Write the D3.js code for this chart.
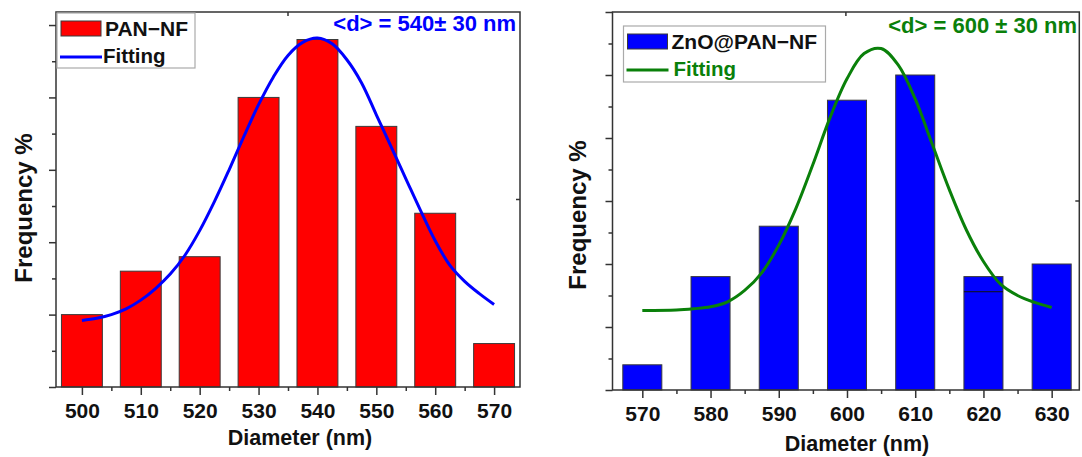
<!DOCTYPE html>
<html>
<head>
<meta charset="utf-8">
<script src="https://cdn.jsdelivr.net/npm/d3@7"></script>
<style>
  html, body { margin: 0; padding: 0; background: #fff; }
  svg { display: block; font-family: "Liberation Sans", Arial, sans-serif; }
</style>
</head>
<body>
<svg id="chart" width="1082" height="457"></svg>
<script>
// ---------- DATA ----------
const leftDiameters = [500, 510, 520, 530, 540, 550, 560, 570];
const leftFrequency = [5, 8, 9, 20, 24, 18, 12, 3];
const leftFitX = [500, 502.5, 505, 507.5, 510, 512.5, 515, 517.5, 520, 522.5, 525, 527.5, 530, 532.5, 535, 537.5, 540, 542.5, 545, 547.5, 550, 552.5, 555, 557.5, 560, 562.5, 565, 567.5, 570];
const leftFitY = [4.6, 4.75, 5.0, 5.4, 6.0, 6.8, 7.8, 9.1, 10.8, 12.8, 15.0, 17.3, 19.5, 21.4, 22.9, 23.8, 24.1, 23.7, 22.6, 21.0, 18.8, 16.6, 14.4, 12.2, 10.1, 8.4, 7.3, 6.45, 5.7];
const leftXTickLabels = ["500", "510", "520", "530", "540", "550", "560", "570"];
const leftLegend = ["PAN\u2212NF", "Fitting"];
const leftNote = "<d> = 540\u00b1 30 nm";

const rightDiameters = [570, 580, 590, 600, 610, 620, 630];
const rightFrequency = [2, 9, 13, 23, 25, 9, 10];
const rightInnerLine = [{ d: 620, v: 7.8 }];
const rightFitX = [570, 575, 577.5, 580, 582.5, 585, 587.5, 590, 592.5, 595, 597.5, 600, 602.5, 605, 607.5, 610, 612.5, 615, 617.5, 620, 622.5, 625, 627.5, 630];
const rightFitY = [6.3, 6.35, 6.45, 6.6, 7.0, 7.9, 9.3, 11.5, 14.4, 17.9, 21.6, 24.7, 26.7, 27.1, 25.8, 23.1, 19.5, 15.9, 12.7, 10.2, 8.4, 7.5, 6.95, 6.55];
const rightXTickLabels = ["570", "580", "590", "600", "610", "620", "630"];
const rightLegend = ["ZnO@PAN\u2212NF", "Fitting"];
const rightNote = "<d> = 600 \u00b1 30 nm";

const xTitle = "Diameter (nm)";
const yTitle = "Frequency %";

// ---------- DRAWING ----------
const svg = d3.select("#chart");
const axisColor = "#333";

function panel(cfg) {
  const g = svg.append("g");
  const x = d3.scaleLinear().domain(cfg.xDomain).range([cfg.left, cfg.right]);
  const y = d3.scaleLinear().domain(cfg.yDomain).range([cfg.bottom, cfg.top]);

  // bars
  g.selectAll("rect.bar").data(cfg.diam.map((d, i) => ({ d, v: cfg.freq[i] })))
    .enter().append("rect")
    .attr("x", d => x(d.d - cfg.barW / 2))
    .attr("width", d => x(d.d + cfg.barW / 2) - x(d.d - cfg.barW / 2))
    .attr("y", d => y(d.v))
    .attr("height", d => y(0) - y(d.v))
    .attr("fill", cfg.barColor)
    .attr("stroke", "#3a3a3a")
    .attr("stroke-width", 1);

  (cfg.inner || []).forEach(m => {
    g.append("line")
      .attr("x1", x(m.d - cfg.barW / 2)).attr("x2", x(m.d + cfg.barW / 2))
      .attr("y1", y(m.v)).attr("y2", y(m.v))
      .attr("stroke", "#111").attr("stroke-width", 1);
  });

  // fit curve
  const line = d3.line().x(d => x(d[0])).y(d => y(d[1])).curve(d3.curveCatmullRom);
  g.append("path")
    .datum(cfg.fitX.map((v, i) => [v, cfg.fitY[i]]))
    .attr("d", line)
    .attr("fill", "none")
    .attr("stroke", cfg.fitColor)
    .attr("stroke-width", 3);

  // frame
  g.append("rect")
    .attr("x", cfg.left).attr("y", cfg.top)
    .attr("width", cfg.right - cfg.left).attr("height", cfg.bottom - cfg.top)
    .attr("fill", "none").attr("stroke", axisColor).attr("stroke-width", 1.5);

  // bottom axis: majors + minors
  const xMaj = d3.axisBottom(x).tickValues(cfg.diam).tickSize(8).tickPadding(8)
    .tickFormat((d, i) => cfg.xLabels[i]);
  const gx = g.append("g").attr("transform", `translate(0,${cfg.bottom})`).call(xMaj);
  gx.select(".domain").remove();
  gx.selectAll(".tick line").attr("stroke", axisColor).attr("stroke-width", 1.5);
  gx.selectAll(".tick text")
    .attr("fill", "#111").attr("font-size", 21).attr("font-weight", "bold")
    .attr("font-family", "Liberation Sans, Arial, sans-serif")
    .attr("dy", null).attr("y", cfg.tickLabelDy);
  const minorX = cfg.diam.slice(0, -1).map(d => d + 5);
  const gxm = g.append("g").attr("transform", `translate(0,${cfg.bottom})`)
    .call(d3.axisBottom(x).tickValues(minorX).tickSize(4).tickFormat(""));
  gxm.select(".domain").remove();
  gxm.selectAll(".tick line").attr("stroke", axisColor).attr("stroke-width", 1.5);

  // left axis: majors + minors (no labels)
  const gy = g.append("g").attr("transform", `translate(${cfg.left},0)`)
    .call(d3.axisLeft(y).tickValues(cfg.yMajor).tickSize(7).tickFormat(""));
  gy.select(".domain").remove();
  gy.selectAll(".tick line").attr("stroke", axisColor).attr("stroke-width", 1.5);
  const gym = g.append("g").attr("transform", `translate(${cfg.left},0)`)
    .call(d3.axisLeft(y).tickValues(cfg.yMinor).tickSize(4).tickFormat(""));
  gym.select(".domain").remove();
  gym.selectAll(".tick line").attr("stroke", axisColor).attr("stroke-width", 1.5);

  // small stray ticks of top / right axes at mid points
  const mx = (cfg.left + cfg.right) / 2, my = (cfg.top + cfg.bottom) / 2;
  g.append("line").attr("x1", mx).attr("x2", mx).attr("y1", cfg.top).attr("y2", cfg.top + 4)
    .attr("stroke", axisColor).attr("stroke-width", 1.5);
  g.append("line").attr("x1", cfg.right).attr("x2", cfg.right - 4).attr("y1", my).attr("y2", my)
    .attr("stroke", axisColor).attr("stroke-width", 1.5);

  // axis titles
  g.append("text").attr("x", cfg.xTitleX).attr("y", cfg.xTitleY)
    .attr("text-anchor", "middle").attr("font-size", 21.5).attr("font-weight", "bold")
    .attr("fill", "#111").text(xTitle);
  g.append("text")
    .attr("transform", `translate(${cfg.yTitleX},${cfg.yTitleY}) rotate(-90)`)
    .attr("text-anchor", "middle").attr("font-size", 24).attr("font-weight", "bold")
    .attr("fill", "#111").text(yTitle);

  // legend
  const L = cfg.legend;
  g.append("rect").attr("x", L.x).attr("y", L.y).attr("width", L.w).attr("height", L.h)
    .attr("fill", "#fff").attr("stroke", "#aaa").attr("stroke-width", 1.2);
  g.append("rect").attr("x", L.x + 4).attr("y", L.y + 8).attr("width", 40).attr("height", 15)
    .attr("fill", cfg.barColor).attr("stroke", "#3a3a3a").attr("stroke-width", 1);
  g.append("text").attr("x", L.x + 48).attr("y", L.y + 23)
    .attr("font-size", 21).attr("font-weight", "bold").attr("fill", "#111").text(cfg.legendText[0]);
  g.append("line").attr("x1", L.x + 3).attr("x2", L.x + 45)
    .attr("y1", L.y + 44).attr("y2", L.y + 44)
    .attr("stroke", cfg.fitColor).attr("stroke-width", 3);
  g.append("text").attr("x", L.x + 45 + L.fitGap).attr("y", L.y + 50)
    .attr("font-size", 20.5).attr("font-weight", "bold").attr("fill", cfg.fitTextColor)
    .text(cfg.legendText[1]);

  // annotation
  g.append("text").attr("x", cfg.noteX).attr("y", cfg.noteY)
    .attr("text-anchor", "end").attr("font-size", 22).attr("font-weight", "bold")
    .attr("fill", cfg.fitColor).text(cfg.note);
}

panel({
  left: 56, right: 520, top: 12, bottom: 387,
  xDomain: [495.6, 574.4], yDomain: [0, 25.9],
  yMajor: [0, 5, 10, 15, 20, 25], yMinor: [2.5, 7.5, 12.5, 17.5, 22.5],
  diam: leftDiameters, freq: leftFrequency, xLabels: leftXTickLabels, barW: 6.95,
  fitX: leftFitX, fitY: leftFitY,
  barColor: "#ff0000", fitColor: "#0000ff", fitTextColor: "#111",
  tickLabelDy: 31,
  xTitleX: 300, xTitleY: 445, yTitleX: 32, yTitleY: 208,
  legend: { x: 57, y: 13, w: 138, h: 55, fitGap: 1 },
  legendText: leftLegend,
  note: leftNote, noteX: 516, noteY: 31
});

panel({
  left: 612.5, right: 1079.3, top: 12, bottom: 390,
  xDomain: [565.63, 634.05], yDomain: [0, 30],
  yMajor: [0, 5, 10, 15, 20, 25, 30], yMinor: [2.5, 7.5, 12.5, 17.5, 22.5, 27.5],
  diam: rightDiameters, freq: rightFrequency, xLabels: rightXTickLabels, barW: 5.72,
  inner: rightInnerLine,
  fitX: rightFitX, fitY: rightFitY,
  barColor: "#0000ff", fitColor: "#0a800a", fitTextColor: "#0a800a",
  tickLabelDy: 31,
  xTitleX: 857, xTitleY: 451, yTitleX: 586, yTitleY: 215,
  legend: { x: 623.5, y: 26, w: 202, h: 56, fitGap: 5 },
  legendText: rightLegend,
  note: rightNote, noteX: 1077, noteY: 33
});
</script>
</body>
</html>
